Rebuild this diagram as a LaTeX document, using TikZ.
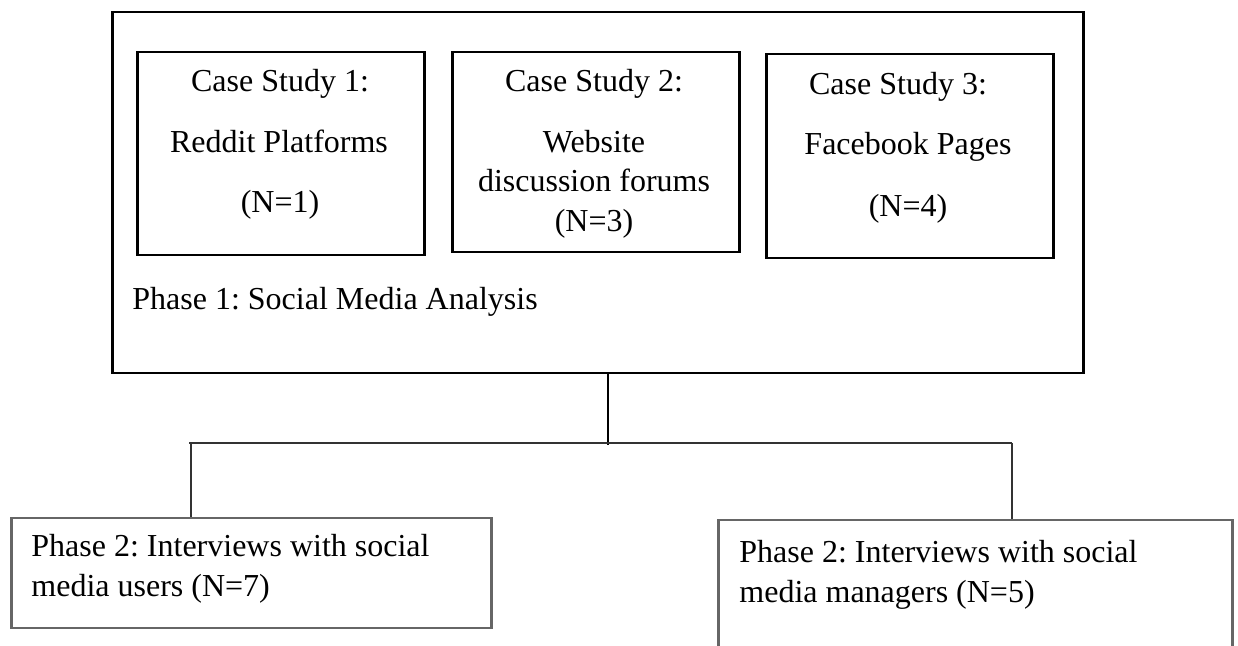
\documentclass[tikz,border=0pt]{standalone}
\usepackage{fontspec}
\setmainfont{Liberation Serif}
\frenchspacing
\begin{document}
\begin{tikzpicture}[x=0.5pt,y=-0.5pt,
  framebox/.style={draw=black,line width=1.25pt,inner sep=0pt,anchor=north west},
  graybox/.style={draw=black!60,line width=1.25pt,inner sep=0pt,anchor=north west},
  txt/.style={inner sep=0pt,anchor=base,font=\fontsize{16}{19}\selectfont},
  ltxt/.style={inner sep=0pt,anchor=base west,font=\fontsize{16}{19}\selectfont},
  conn/.style={draw=black!80,line width=0.7pt}]
\useasboundingbox (0,0) rectangle (1238,646);
\clip (0,0) rectangle (1238,646);
% outer frame
\node[framebox,minimum width=485.5pt,minimum height=180.5pt] (outer) at (111,11) {};
% case study boxes
\node[framebox,minimum width=143.5pt,minimum height=101.5pt] (cs1) at (136,51) {};
\node[framebox,minimum width=143.5pt,minimum height=100pt] (cs2) at (451,51) {};
\node[framebox,minimum width=143.5pt,minimum height=102pt] (cs3) at (765,53) {};
% texts of case study 1
\node[txt] (t11) at (280,92) {Case Study 1:};
\node[txt] (t12) at (279,153) {Reddit Platforms};
\node[txt] (t13) at (280,213) {(N=1)};
% case study 2
\node[txt] (t21) at (594,92) {Case Study 2:};
\node[txt] (t22) at (594,153) {Website};
\node[txt] (t23) at (594,192) {discussion forums};
\node[txt] (t24) at (594,232) {(N=3)};
% case study 3
\node[txt] (t31) at (898,95) {Case Study 3:};
\node[txt] (t32) at (908,155) {Facebook Pages};
\node[txt] (t33) at (908,217) {(N=4)};
% phase 1 label
\node[ltxt] (p1) at (132,310) {Phase 1: Social Media Analysis};
% bottom boxes
\node[graybox,minimum width=240pt,minimum height=55pt] (lbox) at (10,517) {};
\node[graybox,minimum width=257pt,minimum height=80pt] (rbox) at (717,519) {};
\node[ltxt] (l1) at (31,557) {Phase 2: Interviews with social};
\node[ltxt] (l2) at (31,597) {media users (N=7)};
\node[ltxt] (r1) at (739,563) {Phase 2: Interviews with social};
\node[ltxt] (r2) at (739,603) {media managers (N=5)};
% connectors
\coordinate (jc) at (608,445);
\coordinate (hl) at (189,443);
\coordinate (hr) at (1012,443);
\coordinate (vl) at (191,443);
\draw[draw=black,line width=0.8pt] (outer.south -| jc) -- (jc);
\draw[conn] (hl) -- (hr);
\draw[conn] (vl) -- (lbox.north -| vl);
\draw[conn] (hr) -- (rbox.north -| hr);
\end{tikzpicture}
\end{document}
